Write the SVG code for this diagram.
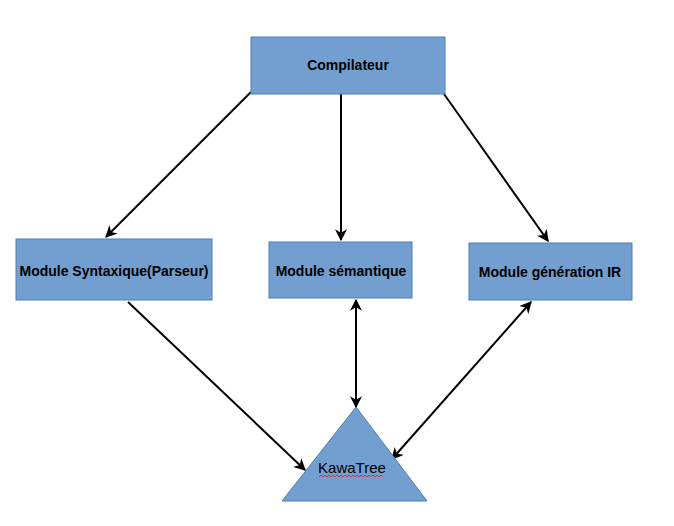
<svg xmlns="http://www.w3.org/2000/svg" width="674" height="526" viewBox="0 0 674 526">
<style>
.box{fill:#729fcf;stroke:#4a7ebb;stroke-width:1}
.lbl{font-family:"Liberation Sans",Arial,sans-serif;font-weight:bold;font-size:14px;fill:#000;text-anchor:middle}
.tri{font-family:"Liberation Sans",Arial,sans-serif;font-size:15px;fill:#000;text-anchor:middle}
.conn{stroke:#000;stroke-width:2;fill:none}
</style>
<defs>
<marker id="ah" viewBox="0 0 10 10" refX="9" refY="5" markerWidth="6" markerHeight="6" orient="auto-start-reverse" markerUnits="strokeWidth">
<path d="M0,0 L10,5 L0,10 L3,5 Z" fill="#000"/>
</marker>
</defs>
<rect width="674" height="526" fill="#fff"/>
<g id="connectors">
<line class="conn" x1="251" y1="92" x2="106" y2="237" marker-end="url(#ah)"/>
<line class="conn" x1="341" y1="94" x2="341" y2="240" marker-end="url(#ah)"/>
<line class="conn" x1="444" y1="94" x2="548" y2="241" marker-end="url(#ah)"/>
<line class="conn" x1="128" y1="302" x2="305" y2="470" marker-end="url(#ah)"/>
<line class="conn" x1="356" y1="300" x2="356" y2="407" marker-start="url(#ah)" marker-end="url(#ah)"/>
<line class="conn" x1="531" y1="302" x2="392" y2="459" marker-start="url(#ah)" marker-end="url(#ah)"/>
</g>
<g id="compilateur">
<rect class="box" x="251" y="37" width="194" height="57"/>
<text class="lbl" x="348" y="70">Compilateur</text>
</g>
<g id="syntaxique">
<rect class="box" x="16" y="239" width="196" height="61"/>
<text class="lbl" x="114" y="276">Module Syntaxique(Parseur)</text>
</g>
<g id="semantique">
<rect class="box" x="269" y="242" width="143" height="56"/>
<text class="lbl" x="341" y="276">Module sémantique</text>
</g>
<g id="generation">
<rect class="box" x="469" y="243" width="163" height="57"/>
<text class="lbl" x="550" y="277">Module génération IR</text>
</g>
<g id="kawatree">
<polygon class="box" points="356,407 427,501 282,501"/>
<text class="tri" x="352" y="473">KawaTree</text>
<polyline points="319,477 321,475 323,477 325,475 327,477 329,475 331,477 333,475 335,477 337,475 339,477 341,475 343,477 345,475 347,477 349,475 351,477 353,475 355,477 357,475 359,477 361,475 363,477 365,475 367,477 369,475 371,477 373,475 375,477 377,475 379,477 381,475 383,477" fill="none" stroke="#e02020" stroke-width="0.8"/>
</g>
</svg>
